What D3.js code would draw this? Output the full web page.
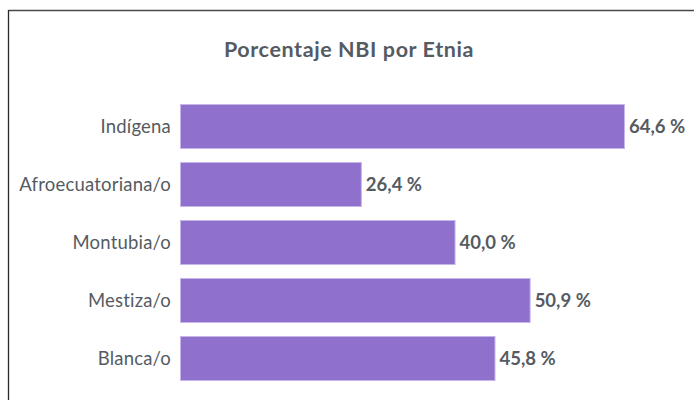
<!DOCTYPE html>
<html>
<head>
<meta charset="utf-8">
<script src="https://cdn.jsdelivr.net/npm/d3@7/dist/d3.min.js"></script>
<style>
  html, body { margin: 0; padding: 0; background: #fff; }
  svg { display: block; }
</style>
</head>
<body>
<svg id="chart" width="694" height="400"></svg>
<script>
// Porcentaje de necesidades básicas insatisfechas por etnia
const categories = ["Indígena", "Afroecuatoriana/o", "Montubia/o", "Mestiza/o", "Blanca/o"];
const values = [64.6, 26.4, 40.0, 50.9, 45.8];
const title = "Porcentaje NBI por Etnia";

const svg = d3.select("#chart");
const W = 694, H = 400;
const plotLeft = 180, plotTop = 97.5;
const font = "Lato, 'Open Sans', sans-serif";
const textColor = "#555b62";

// Frame: top and left edges
svg.append("line").attr("x1", 8.5).attr("x2", W).attr("y1", 10.5).attr("y2", 10.5)
  .attr("stroke", "#4a4a4a").attr("stroke-width", 1.3);
svg.append("line").attr("x1", 8.5).attr("x2", 8.5).attr("y1", 10).attr("y2", H)
  .attr("stroke", "#2a2a2a").attr("stroke-width", 1.3);

svg.append("text")
  .attr("x", 349).attr("y", 57)
  .attr("text-anchor", "middle")
  .attr("font-family", font)
  .attr("font-weight", "bold")
  .attr("font-size", 21.5)
  .attr("letter-spacing", 0.6)
  .attr("fill", textColor)
  .text(title);

const x = d3.scaleLinear().domain([0, 64.6]).range([plotLeft, 625]);
const y = d3.scaleBand().domain(categories).range([plotTop, plotTop + 290]).paddingInner(0.224).paddingOuter(0.112);

const fmt = v => d3.format(".1f")(v).replace(".", ",") + " %";

const g = svg.append("g");
g.selectAll("rect").data(values).join("rect")
  .attr("x", x(0) + 0.5)
  .attr("y", (d, i) => y(categories[i]) + 0.5)
  .attr("width", d => x(d) - x(0) - 1)
  .attr("height", y.bandwidth() - 1)
  .attr("fill", "#8f70cc")
  .attr("stroke", "#c7b6ea")
  .attr("stroke-width", 1);

g.selectAll("text.cat").data(categories).join("text")
  .attr("class", "cat")
  .attr("x", 171)
  .attr("y", d => y(d) + y.bandwidth() / 2)
  .attr("dy", "0.36em")
  .attr("text-anchor", "end")
  .attr("font-family", font)
  .attr("font-size", 18.5)
  .attr("letter-spacing", 0.2)
  .attr("fill", textColor)
  .text(d => d);

g.selectAll("text.val").data(values).join("text")
  .attr("class", "val")
  .attr("x", d => x(d) + 4)
  .attr("y", (d, i) => y(categories[i]) + y.bandwidth() / 2)
  .attr("dy", "0.36em")
  .attr("font-family", font)
  .attr("font-weight", "bold")
  .attr("font-size", 18.5)
  .attr("fill", textColor)
  .text(fmt);
</script>
</body>
</html>
